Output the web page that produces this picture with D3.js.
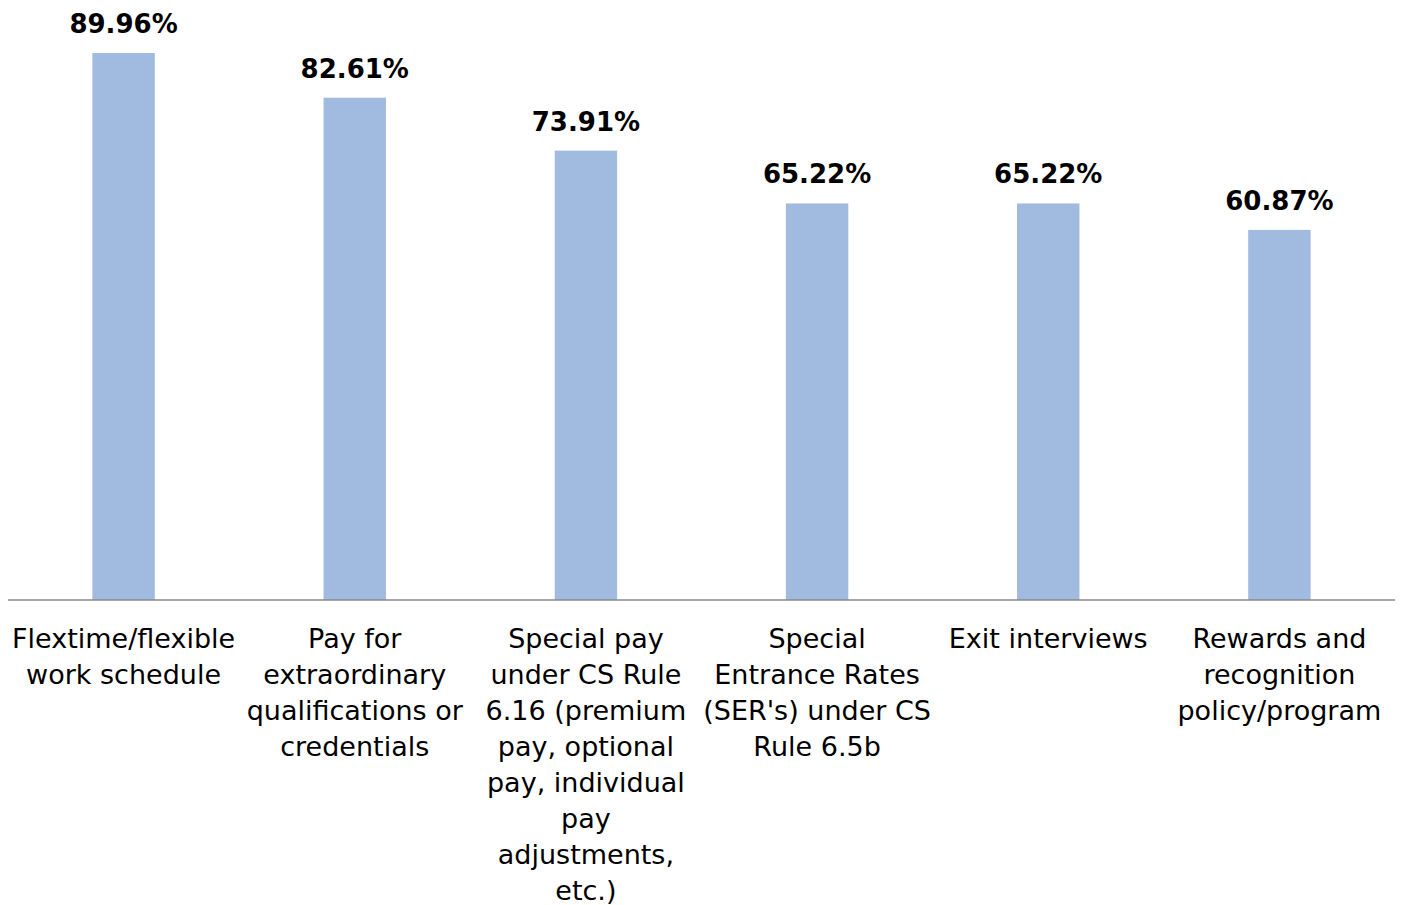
<!DOCTYPE html>
<html>
<head>
<meta charset="utf-8">
<script src="https://cdn.jsdelivr.net/npm/d3@7"></script>
<style>
  body { margin: 0; background: #fff; }
  svg text { font-family: "DejaVu Sans", sans-serif; }
</style>
</head>
<body>
<div id="chart"></div>
<script>
// category labels, already split into lines as in the original
const categories = [
    ["Flextime/flexible", "work schedule"],
    ["Pay for", "extraordinary", "qualifications or", "credentials"],
    ["Special pay", "under CS Rule", "6.16 (premium", "pay, optional", "pay, individual", "pay", "adjustments,", "etc.)"],
    ["Special", "Entrance Rates", "(SER's) under CS", "Rule 6.5b"],
    ["Exit interviews"],
    ["Rewards and", "recognition", "policy/program"]
];
const values = [89.96, 82.61, 73.91, 65.22, 65.22, 60.87];

const width = 1405, height = 905;
const axisY = 600;

const svg = d3.select("#chart").append("svg")
    .attr("width", width)
    .attr("height", height);

const x = d3.scaleBand()
    .domain(d3.range(values.length))
    .range([8, 1395])
    .paddingInner(0.73)
    .paddingOuter(0.365);

const y = d3.scaleLinear()
    .domain([0, 100])
    .range([axisY, axisY - 608]);

// bars
svg.selectAll("rect.bar")
    .data(values)
    .enter().append("rect")
    .attr("class", "bar")
    .attr("x", (d, i) => x(i))
    .attr("y", d => y(d))
    .attr("width", x.bandwidth())
    .attr("height", d => y(0) - y(d))
    .style("fill", "#a1badf");

// value labels
svg.selectAll("text.val")
    .data(values)
    .enter().append("text")
    .attr("class", "val")
    .attr("x", (d, i) => x(i) + x.bandwidth() / 2)
    .attr("y", d => y(d) - 20)
    .attr("text-anchor", "middle")
    .style("font-size", "26px")
    .style("font-weight", "bold")
    .style("fill", "#000")
    .text(d => d.toFixed(2) + "%");

// axis line
svg.append("line")
    .attr("x1", 8).attr("x2", 1395)
    .attr("y1", axisY).attr("y2", axisY)
    .style("stroke", "#888")
    .style("stroke-width", 1.5);

// category labels
const cat = svg.selectAll("text.cat")
    .data(categories)
    .enter().append("text")
    .attr("class", "cat")
    .attr("text-anchor", "middle")
    .style("font-size", "27px")
    .style("fill", "#000");

cat.selectAll("tspan")
    .data((d, i) => d.map(line => ({ line: line, i: i })))
    .enter().append("tspan")
    .attr("x", d => x(d.i) + x.bandwidth() / 2)
    .attr("y", (d, j) => 648 + j * 36)
    .text(d => d.line);
</script>
</body>
</html>
